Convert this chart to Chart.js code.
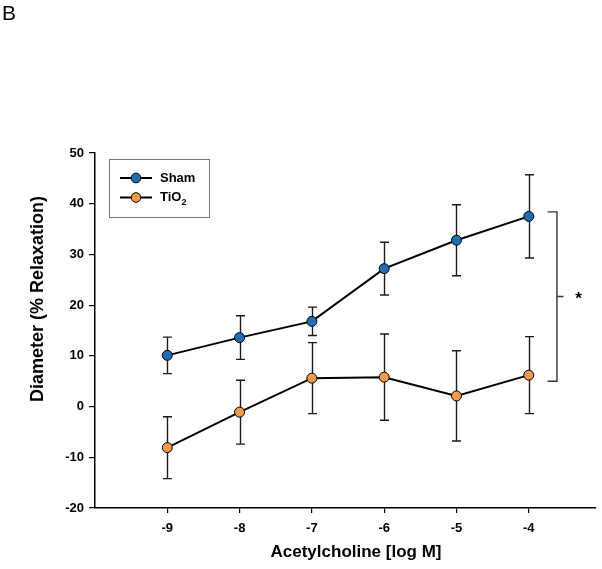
<!DOCTYPE html>
<html>
<head>
<meta charset="utf-8">
<script src="https://cdn.jsdelivr.net/npm/chart.js@4.4.0/dist/chart.umd.min.js"></script>
<style>
  html, body { margin: 0; padding: 0; background: #fff; }
  #wrap { position: relative; width: 602px; height: 569px; }
</style>
</head>
<body>
<div id="wrap"><canvas id="relaxChart" width="602" height="569"></canvas></div>
<script>
// dose-response data
var doses = [-9, -8, -7, -6, -5, -4];
var shamMean = [10.1, 13.6, 16.8, 27.2, 32.8, 37.5];
var shamErr = [3.6, 4.3, 2.8, 5.2, 7.0, 8.2];
var tioMean = [-8.1, -1.1, 5.6, 5.8, 2.1, 6.2];
var tioErr = [6.1, 6.3, 7.0, 8.5, 8.9, 7.6];
var yTicks = [-20, -10, 0, 10, 20, 30, 40, 50];

// significance bracket spans these values, to the right of the last dose
var bracketTop = 38.4;
var bracketBottom = 5.0;

var FONT = '"Liberation Sans", Arial, sans-serif';

function toPoints(means) {
  return doses.map(function (d, i) { return { x: d, y: means[i] }; });
}

var extras = {
  id: 'extras',
  beforeDatasetsDraw: function (chart) {
    var ctx = chart.ctx;
    var xs = chart.scales.x, ys = chart.scales.y;
    ctx.save();
    ctx.strokeStyle = '#1a1a1a';
    ctx.lineWidth = 1.4;
    [[shamMean, shamErr], [tioMean, tioErr]].forEach(function (s) {
      doses.forEach(function (d, i) {
        var px = Math.round(xs.getPixelForValue(d)) + 0.5;
        var top = ys.getPixelForValue(s[0][i] + s[1][i]);
        var bot = ys.getPixelForValue(s[0][i] - s[1][i]);
        ctx.beginPath();
        ctx.moveTo(px, top); ctx.lineTo(px, bot);
        ctx.moveTo(px - 4.5, top); ctx.lineTo(px + 4.5, top);
        ctx.moveTo(px - 4.5, bot); ctx.lineTo(px + 4.5, bot);
        ctx.stroke();
      });
    });
    ctx.restore();
  },
  afterDraw: function (chart) {
    var ctx = chart.ctx;
    var xs = chart.scales.x, ys = chart.scales.y;
    ctx.save();

    // panel letter
    ctx.fillStyle = '#000';
    ctx.font = '21px ' + FONT;
    ctx.textAlign = 'left';
    ctx.textBaseline = 'top';
    ctx.fillText('B', 2, 4);

    // axis titles
    ctx.font = 'bold 17px ' + FONT;
    ctx.textAlign = 'center';
    ctx.textBaseline = 'middle';
    ctx.fillText('Acetylcholine [log M]', 356, 552);
    ctx.save();
    ctx.translate(38, 299);
    ctx.rotate(-Math.PI / 2);
    ctx.font = 'bold 18px ' + FONT;
    ctx.fillText('Diameter (% Relaxation)', 0, 0);
    ctx.restore();

    // legend box
    var lx = 109.5, ly = 159.5;
    ctx.strokeStyle = '#777';
    ctx.lineWidth = 1;
    ctx.strokeRect(lx, ly, 100, 58);
    var rows = [
      { label: 'Sham', color: '#1f6db3', y: 178 },
      { label: 'TiO', sub: '2', color: '#f39a4f', y: 197.5 }
    ];
    rows.forEach(function (r) {
      ctx.strokeStyle = '#000';
      ctx.lineWidth = 2;
      ctx.beginPath();
      ctx.moveTo(120, r.y); ctx.lineTo(152, r.y);
      ctx.stroke();
      ctx.beginPath();
      ctx.arc(136, r.y, 4.8, 0, Math.PI * 2);
      ctx.fillStyle = r.color;
      ctx.fill();
      ctx.lineWidth = 1;
      ctx.stroke();
      ctx.fillStyle = '#000';
      ctx.font = 'bold 13px ' + FONT;
      ctx.textAlign = 'left';
      ctx.textBaseline = 'middle';
      ctx.fillText(r.label, 160, r.y);
      if (r.sub) {
        var w = ctx.measureText(r.label).width;
        ctx.font = 'bold 9px ' + FONT;
        ctx.fillText(r.sub, 160 + w, r.y + 5);
      }
    });

    // significance bracket
    var bx0 = xs.getPixelForValue(-3.74), bx1 = xs.getPixelForValue(-3.61);
    var by0 = ys.getPixelForValue(bracketTop), by1 = ys.getPixelForValue(bracketBottom);
    var bmid = (by0 + by1) / 2;
    ctx.strokeStyle = '#333';
    ctx.lineWidth = 1.4;
    ctx.beginPath();
    ctx.moveTo(bx0, by0); ctx.lineTo(bx1, by0); ctx.lineTo(bx1, by1); ctx.lineTo(bx0, by1);
    ctx.moveTo(bx1, bmid); ctx.lineTo(xs.getPixelForValue(-3.52), bmid);
    ctx.stroke();
    ctx.fillStyle = '#000';
    ctx.font = 'bold 17px ' + FONT;
    ctx.textAlign = 'center';
    ctx.textBaseline = 'middle';
    ctx.fillText('*', xs.getPixelForValue(-3.31), bmid + 3);

    ctx.restore();
  }
};

new Chart(document.getElementById('relaxChart'), {
  type: 'line',
  data: {
    datasets: [{
      label: 'Sham',
      data: toPoints(shamMean),
      borderColor: '#000',
      borderWidth: 2,
      pointRadius: 5,
      pointBackgroundColor: '#1f6db3',
      pointBorderColor: '#000',
      pointBorderWidth: 1,
      tension: 0
    }, {
      label: 'TiO2',
      data: toPoints(tioMean),
      borderColor: '#000',
      borderWidth: 2,
      pointRadius: 5,
      pointBackgroundColor: '#f39a4f',
      pointBorderColor: '#000',
      pointBorderWidth: 1,
      tension: 0
    }]
  },
  options: {
    responsive: false,
    devicePixelRatio: 1,
    animation: false,
    layout: { padding: { top: 153, right: 2, left: 0, bottom: 0 } },
    plugins: { legend: { display: false }, tooltip: { enabled: false } },
    scales: {
      x: {
        type: 'linear',
        min: -10,
        max: -3.07,
        afterBuildTicks: function (scale) {
          scale.ticks = doses.map(function (d) { return { value: d }; });
        },
        afterFit: function (scale) {
          scale.height = 61;
        },
        grid: { drawOnChartArea: false, drawTicks: true, tickLength: 5, color: '#000', lineWidth: 1.2 },
        border: { color: '#000', width: 1.5 },
        ticks: { color: '#000', font: { family: FONT, size: 13, weight: 'bold' }, padding: 8 }
      },
      y: {
        min: -20,
        max: 50,
        afterBuildTicks: function (scale) {
          scale.ticks = yTicks.map(function (v) { return { value: v }; });
        },
        afterFit: function (scale) {
          scale.width = 95;
        },
        grid: { drawOnChartArea: false, drawTicks: true, tickLength: 6, color: '#000', lineWidth: 1.2 },
        border: { color: '#000', width: 1.5 },
        ticks: { color: '#000', font: { family: FONT, size: 13, weight: 'bold' }, padding: 5 }
      }
    }
  },
  plugins: [extras]
});
</script>
</body>
</html>
